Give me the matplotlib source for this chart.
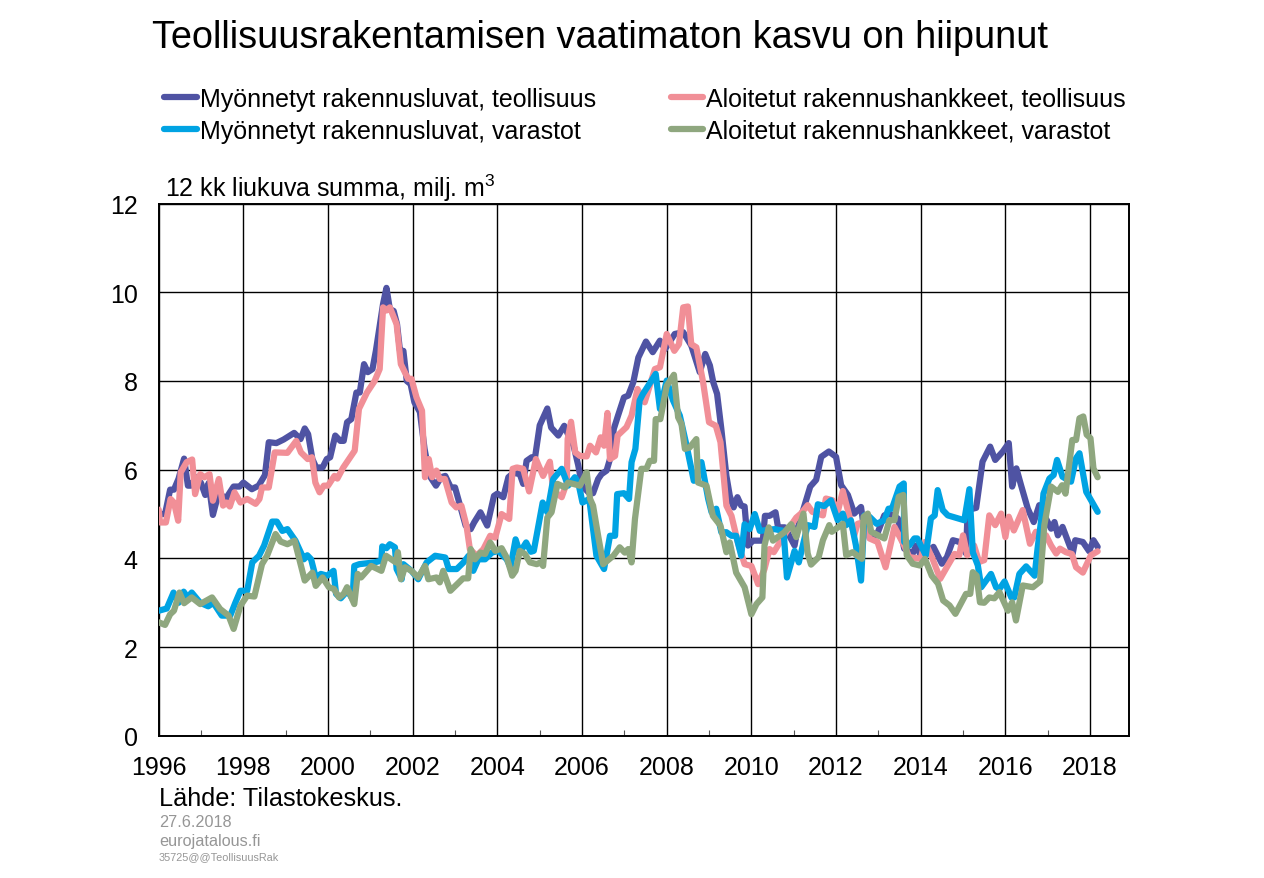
import matplotlib
matplotlib.use('Agg')
import matplotlib.pyplot as plt

plt.rcParams['font.family']          = ['Liberation Sans', 'DejaVu Sans']
plt.rcParams['font.size']            = 18
plt.rcParams['mathtext.default']     = 'regular'
plt.rcParams['lines.solid_capstyle'] = 'round'

W, H = 1264, 879

# luvat, teollisuus
lt_x = [1996,1996.08,1996.15,1996.27,1996.36,1996.47,1996.6,1996.69,1996.76,1996.88,1997,1997.1,1997.18,1997.28,1997.42,1997.58,1997.77,1997.91,1998,1998.2,1998.36,1998.51,1998.6,1998.78,1998.95,1999.2,1999.35,1999.45,1999.53,1999.63,1999.72,1999.87,1999.97,2000.05,2000.17,2000.29,2000.37,2000.45,2000.55,2000.67,2000.75,2000.85,2000.94,2001.05,2001.13,2001.3,2001.38,2001.46,2001.55,2001.63,2001.7,2001.78,2001.86,2001.95,2002.04,2002.17,2002.28,2002.4,2002.55,2002.67,2002.77,2002.9,2003,2003.13,2003.25,2003.37,2003.45,2003.6,2003.76,2003.92,2004,2004.14,2004.26,2004.38,2004.53,2004.61,2004.69,2004.81,2004.89,2005,2005.18,2005.27,2005.44,2005.58,2005.68,2005.8,2005.91,2006,2006.15,2006.26,2006.38,2006.46,2006.58,2006.66,2006.75,2006.85,2006.99,2007.09,2007.21,2007.33,2007.51,2007.67,2007.84,2007.96,2008.19,2008.39,2008.58,2008.78,2008.91,2009.02,2009.1,2009.19,2009.29,2009.41,2009.49,2009.58,2009.67,2009.76,2009.84,2009.92,2010.04,2010.27,2010.32,2010.43,2010.57,2010.63,2010.79,2011.02,2011.09,2011.39,2011.53,2011.65,2011.83,2012,2012.12,2012.28,2012.43,2012.59,2012.67,2012.79,2012.96,2013.14,2013.26,2013.46,2013.61,2013.81,2013.89,2014.02,2014.3,2014.5,2014.62,2014.76,2014.92,2015.07,2015.11,2015.31,2015.46,2015.64,2015.76,2015.94,2016.08,2016.16,2016.26,2016.37,2016.53,2016.67,2016.8,2016.92,2017.08,2017.16,2017.24,2017.35,2017.5,2017.59,2017.65,2017.83,2017.98,2018.08,2018.18]
lt_y = [5.0,5.0,5.0,5.55,5.55,5.8,6.25,5.64,5.64,5.83,5.7,5.43,5.7,4.98,5.49,5.34,5.62,5.62,5.71,5.56,5.64,5.88,6.62,6.6,6.68,6.83,6.69,6.93,6.8,6.24,6.05,6.05,6.24,6.28,6.77,6.65,6.65,7.07,7.14,7.74,7.74,8.38,8.2,8.27,8.68,9.74,10.1,9.62,9.58,9.28,8.68,8.68,8.0,7.93,7.52,7.3,6.47,5.86,5.64,5.83,5.86,5.6,5.6,5.15,4.74,4.66,4.81,5.04,4.74,5.41,5.46,5.38,5.83,5.93,5.9,5.68,6.2,6.28,6.28,7.0,7.38,6.95,6.77,6.99,6.77,6.54,6.1,5.64,5.49,5.47,5.79,5.9,5.98,6.24,6.92,7.22,7.63,7.67,7.97,8.53,8.89,8.65,8.91,8.72,9.06,9.1,8.8,8.2,8.61,8.35,7.97,7.71,6.92,5.86,5.41,5.15,5.38,5.19,5.17,4.29,4.4,4.4,4.96,4.96,5.04,4.7,4.7,4.29,4.67,5.62,5.77,6.29,6.41,6.29,5.65,5.43,5.01,5.16,4.6,4.52,4.52,4.97,5.01,4.9,4.22,4.11,4.29,4.03,4.26,3.88,4.03,4.41,4.37,4.11,5.09,5.14,6.18,6.52,6.22,6.41,6.6,5.62,6.03,5.65,5.12,4.82,5.2,4.97,4.67,4.82,4.52,4.71,4.33,4.11,4.41,4.37,4.16,4.41,4.26]

# luvat, varastot
lv_x = [1996,1996.19,1996.35,1996.47,1996.59,1996.68,1996.78,1996.98,1997.17,1997.29,1997.49,1997.69,1997.81,1997.93,1998.09,1998.21,1998.37,1998.49,1998.68,1998.79,1998.92,1999.04,1999.23,1999.43,1999.51,1999.6,1999.71,1999.83,1999.98,2000.13,2000.19,2000.3,2000.46,2000.58,2000.62,2000.74,2001.1,2001.26,2001.28,2001.38,2001.46,2001.58,2001.62,2001.74,2001.78,2001.97,2002.13,2002.33,2002.53,2002.77,2002.85,2003.04,2003.2,2003.32,2003.43,2003.55,2003.71,2003.87,2004.02,2004.22,2004.31,2004.43,2004.53,2004.68,2004.79,2004.86,2005.07,2005.18,2005.32,2005.52,2005.67,2005.83,2005.91,2006.01,2006.17,2006.34,2006.52,2006.66,2006.78,2006.83,2006.99,2007.11,2007.17,2007.26,2007.36,2007.44,2007.74,2007.84,2008,2008.15,2008.31,2008.47,2008.64,2008.82,2008.98,2009.06,2009.17,2009.29,2009.41,2009.53,2009.64,2009.76,2009.84,2009.96,2010.08,2010.2,2010.55,2010.76,2010.84,2011.02,2011.12,2011.33,2011.49,2011.57,2011.72,2011.88,2012.04,2012.16,2012.24,2012.35,2012.47,2012.59,2012.67,2012.79,2012.96,2013.14,2013.24,2013.32,2013.5,2013.6,2013.61,2013.73,2013.85,2013.92,2014.12,2014.24,2014.33,2014.4,2014.52,2014.64,2015.03,2015.15,2015.23,2015.35,2015.43,2015.66,2015.78,2015.86,2015.98,2016.14,2016.21,2016.33,2016.49,2016.69,2016.76,2016.84,2016.9,2017.04,2017.14,2017.22,2017.35,2017.55,2017.67,2017.75,2017.91,2018.18]
lv_y = [2.82,2.87,3.23,3.0,3.25,3.12,3.23,3.0,2.92,3.0,2.71,2.71,3.0,3.27,3.27,3.91,4.06,4.29,4.83,4.83,4.62,4.66,4.4,3.98,4.07,3.98,3.57,3.65,3.61,3.72,3.2,3.1,3.27,3.08,3.83,3.87,3.91,3.95,4.27,4.23,4.32,4.25,3.76,3.53,3.87,3.72,3.53,3.91,4.06,4.02,3.76,3.76,3.91,4.06,3.72,3.98,3.98,4.13,4.17,3.98,3.8,4.43,4.13,4.36,4.15,4.17,5.26,5.04,5.79,6.02,5.64,5.83,5.71,5.26,5.34,4.06,3.76,4.51,4.51,5.45,5.47,5.34,6.17,6.47,7.56,7.71,8.16,7.37,8.01,7.56,7.22,6.54,5.75,6.17,5.34,5.04,5.12,4.59,4.59,4.51,4.51,4.06,4.77,4.66,5.0,4.62,4.66,4.62,3.57,4.17,3.91,4.75,4.71,5.22,5.18,5.31,4.86,5.01,4.75,4.86,4.29,3.5,4.97,4.94,4.78,4.86,5.12,5.12,5.62,5.69,4.37,4.29,4.45,4.45,4.07,4.9,4.97,5.54,5.09,4.97,4.86,5.56,4.14,3.84,3.35,3.65,3.35,3.31,3.48,3.12,3.12,3.65,3.82,3.61,4.22,4.82,5.46,5.8,5.88,6.22,5.84,5.73,6.26,6.37,5.5,5.05]

# aloitetut, teollisuus
at_x = [1996,1996.03,1996.17,1996.28,1996.36,1996.46,1996.52,1996.66,1996.79,1996.86,1996.98,1997.08,1997.2,1997.28,1997.42,1997.52,1997.6,1997.68,1997.79,1997.93,1998.09,1998.29,1998.38,1998.44,1998.6,1998.74,1999.04,1999.25,1999.36,1999.52,1999.62,1999.7,1999.8,1999.9,2000,2000.15,2000.22,2000.36,2000.63,2000.73,2000.92,2001.1,2001.22,2001.3,2001.38,2001.46,2001.62,2001.72,2001.89,2001.97,2002.09,2002.22,2002.29,2002.38,2002.46,2002.56,2002.64,2002.76,2002.92,2003.03,2003.15,2003.27,2003.35,2003.51,2003.67,2003.83,2003.95,2004.1,2004.28,2004.36,2004.46,2004.61,2004.75,2004.91,2005.08,2005.24,2005.32,2005.52,2005.64,2005.66,2005.74,2005.84,2005.95,2006.11,2006.19,2006.33,2006.44,2006.52,2006.6,2006.66,2006.78,2006.84,2007.05,2007.17,2007.31,2007.48,2007.72,2007.84,2008,2008.18,2008.29,2008.39,2008.5,2008.58,2008.7,2008.86,2009,2009.16,2009.27,2009.41,2009.53,2009.68,2009.84,2010,2010.16,2010.31,2010.43,2010.53,2010.82,2011.06,2011.17,2011.33,2011.44,2011.69,2011.76,2011.92,2012.04,2012.16,2012.31,2012.43,2012.51,2012.67,2012.79,2012.98,2013.17,2013.38,2013.61,2013.73,2014,2014.1,2014.28,2014.46,2014.64,2014.8,2014.91,2015,2015.1,2015.26,2015.38,2015.5,2015.62,2015.76,2015.9,2016,2016.08,2016.2,2016.41,2016.58,2016.72,2016.96,2017.08,2017.2,2017.29,2017.43,2017.57,2017.67,2017.83,2018.02,2018.18]
at_y = [5.1,4.81,4.81,5.34,5.26,4.85,5.94,6.17,6.23,5.45,5.9,5.83,5.9,5.3,5.79,5.19,5.26,5.17,5.49,5.26,5.34,5.23,5.34,5.6,5.6,6.39,6.38,6.65,6.39,6.24,6.28,5.71,5.49,5.64,5.64,5.86,5.8,6.05,6.43,7.37,7.74,8.0,8.27,9.66,9.59,9.66,9.28,8.38,8.05,8.05,7.63,7.33,5.83,6.24,5.83,5.98,5.79,5.79,5.26,5.15,5.19,4.74,4.21,4.06,4.21,4.51,4.47,5.0,4.89,6.02,6.05,6.02,5.51,6.24,5.86,6.18,5.53,5.38,5.71,6.69,7.08,6.39,6.31,6.3,6.54,6.39,6.73,6.54,7.28,6.24,6.31,6.77,6.96,7.22,7.82,7.52,8.27,8.31,9.06,8.68,8.83,9.66,9.68,8.83,8.76,7.97,7.07,6.99,6.62,5.19,4.96,4.36,3.87,3.83,3.42,3.76,4.21,4.14,4.59,4.92,5.01,5.2,5.05,4.97,5.35,5.31,5.05,5.52,4.97,4.52,4.78,4.82,4.45,4.37,3.8,4.71,4.29,4.03,3.99,4.37,3.99,3.54,3.84,4.1,4.07,4.52,4.07,4.29,3.92,3.96,4.97,4.75,5.01,4.48,4.94,4.63,5.09,4.33,4.6,4.52,4.29,4.11,4.22,4.14,4.1,3.8,3.68,4.07,4.16]

# aloitetut, varastot
av_x = [1996,1996.15,1996.27,1996.36,1996.49,1996.6,1996.78,1996.98,1997.26,1997.45,1997.65,1997.77,1997.93,1998.09,1998.26,1998.44,1998.56,1998.76,1998.88,1999.04,1999.21,1999.45,1999.63,1999.71,1999.87,2000.02,2000.14,2000.26,2000.37,2000.45,2000.62,2000.7,2000.78,2001.02,2001.26,2001.37,2001.6,2001.65,2001.72,2001.82,2001.97,2002.13,2002.29,2002.37,2002.56,2002.64,2002.72,2002.89,2003.19,2003.31,2003.37,2003.47,2003.6,2003.71,2003.83,2003.95,2004.1,2004.22,2004.35,2004.43,2004.53,2004.65,2004.77,2004.93,2005.02,2005.08,2005.18,2005.28,2005.42,2005.6,2005.67,2005.95,2006.11,2006.19,2006.26,2006.38,2006.5,2006.74,2006.89,2007.01,2007.09,2007.17,2007.25,2007.4,2007.52,2007.6,2007.7,2007.74,2007.85,2008,2008.17,2008.27,2008.35,2008.43,2008.54,2008.7,2008.74,2008.94,2009.09,2009.27,2009.41,2009.49,2009.64,2009.84,2010,2010.12,2010.26,2010.31,2010.41,2010.51,2010.78,2010.94,2011.06,2011.23,2011.33,2011.41,2011.59,2011.69,2011.84,2011.9,2012.16,2012.24,2012.39,2012.61,2012.65,2012.75,2012.83,2013.14,2013.26,2013.38,2013.48,2013.59,2013.67,2013.81,2013.98,2014.1,2014.26,2014.41,2014.53,2014.68,2014.82,2015.07,2015.17,2015.23,2015.32,2015.4,2015.5,2015.62,2015.74,2015.86,2016.06,2016.16,2016.25,2016.41,2016.65,2016.82,2016.92,2017.08,2017.24,2017.34,2017.42,2017.58,2017.67,2017.75,2017.84,2017.92,2018.01,2018.08,2018.18]
av_y = [2.56,2.5,2.74,2.82,3.23,2.99,3.12,2.97,3.12,2.86,2.71,2.41,2.93,3.16,3.14,3.87,4.06,4.55,4.38,4.32,4.4,3.5,3.68,3.38,3.57,3.35,3.31,3.12,3.2,3.35,2.97,3.65,3.57,3.83,3.72,4.06,3.91,4.14,3.53,3.8,3.72,3.57,3.83,3.53,3.57,3.46,3.72,3.27,3.55,3.55,4.21,3.98,4.13,4.1,4.36,4.17,4.23,4.02,3.61,3.72,4.17,4.1,3.91,3.87,3.91,3.83,4.92,5.04,5.68,5.6,5.71,5.64,5.94,5.34,5.19,4.51,3.87,4.06,4.25,4.13,4.21,3.91,4.89,6.02,6.02,6.2,6.2,7.14,7.14,7.89,8.14,7.18,7.03,6.47,6.5,6.69,5.71,5.64,4.96,4.74,4.14,4.36,3.68,3.35,2.74,2.97,3.12,4.29,4.7,4.4,4.59,4.77,4.48,5.01,4.11,3.86,4.03,4.41,4.75,4.6,4.78,4.07,4.14,3.99,4.94,5.01,4.6,4.45,4.86,4.86,5.39,5.43,4.07,3.88,3.84,3.99,3.61,3.43,3.05,2.94,2.75,3.2,3.2,3.69,3.61,3.01,3.0,3.12,3.1,3.24,2.82,3.01,2.6,3.39,3.35,3.48,4.75,5.62,5.5,5.65,5.46,6.67,6.67,7.16,7.2,6.79,6.71,6.03,5.83]

years_major = list(range(1996, 2019, 2))
years_minor = list(range(1997, 2019, 2))
y_ticks = [0, 2, 4, 6, 8, 10, 12]

labels = ['Myönnetyt rakennusluvat, teollisuus', 'Myönnetyt rakennusluvat, varastot',
          'Aloitetut rakennushankkeet, teollisuus', 'Aloitetut rakennushankkeet, varastot']
colors = ['#4F53A3', '#00A3E3', '#F18F97', '#8FA77F']


def px_text(fig, x, y, s, **kw):
    # x, y in pixels from top left
    fig.text(x / W, 1 - y / H, s, va='center', ha='left', **kw)


def main():
    fig = plt.figure(figsize=(W / 100, H / 100), dpi=100)
    ax = fig.add_axes([158.7 / W, 1 - 736.8 / H, (1129 - 158.7) / W, (736.8 - 204.6) / H])

    ax.plot(lt_x, lt_y, color=colors[0], lw=4.5, label=labels[0], zorder=3)
    ax.plot(lv_x, lv_y, color=colors[1], lw=4.5, label=labels[1], zorder=5)
    ax.plot(at_x, at_y, color=colors[2], lw=4.5, label=labels[2], zorder=4)
    ax.plot(av_x, av_y, color=colors[3], lw=4.5, label=labels[3], zorder=6)

    ax.set_xlim(1996, 2018.92)
    ax.set_ylim(0, 12)
    ax.set_xticks(years_major)
    ax.set_xticks(years_minor, minor=True)
    ax.set_yticks(y_ticks)
    ax.grid(True, which='major', color='black', lw=1.0)
    ax.tick_params(axis='both', which='major', length=0, labelsize=18)
    ax.tick_params(axis='x', which='major', pad=14)
    ax.tick_params(axis='y', which='major', pad=15)
    ax.tick_params(axis='x', which='minor', direction='in', length=4.5, width=0.8, color='#555555')
    ax.set_axisbelow(True)
    for sp in ax.spines.values():
        sp.set_linewidth(1.4)

    fig.legend(loc='upper left', bbox_to_anchor=(164 / W, 1 - 88 / H), ncols=2, frameon=False,
               fontsize=18, handlelength=1.3, handletextpad=0.12, columnspacing=3.0,
               labelspacing=0.31, borderpad=0, borderaxespad=0)

    px_text(fig, 152, 38, 'Teollisuusrakentamisen vaatimaton kasvu on hiipunut', fontsize=27.3)
    px_text(fig, 165, 188, '12 kk liukuva summa, milj. m$^3$', fontsize=18)
    px_text(fig, 159, 799, 'Lähde: Tilastokeskus.', fontsize=18.2)
    px_text(fig, 159, 823, '27.6.2018', fontsize=11.7, color='#969696')
    px_text(fig, 159, 842, 'eurojatalous.fi', fontsize=11.7, color='#969696')
    px_text(fig, 159, 857, '35725@@TeollisuusRak', fontsize=7.8, color='#969696')

    fig.savefig('out.png', dpi=100)


main()
